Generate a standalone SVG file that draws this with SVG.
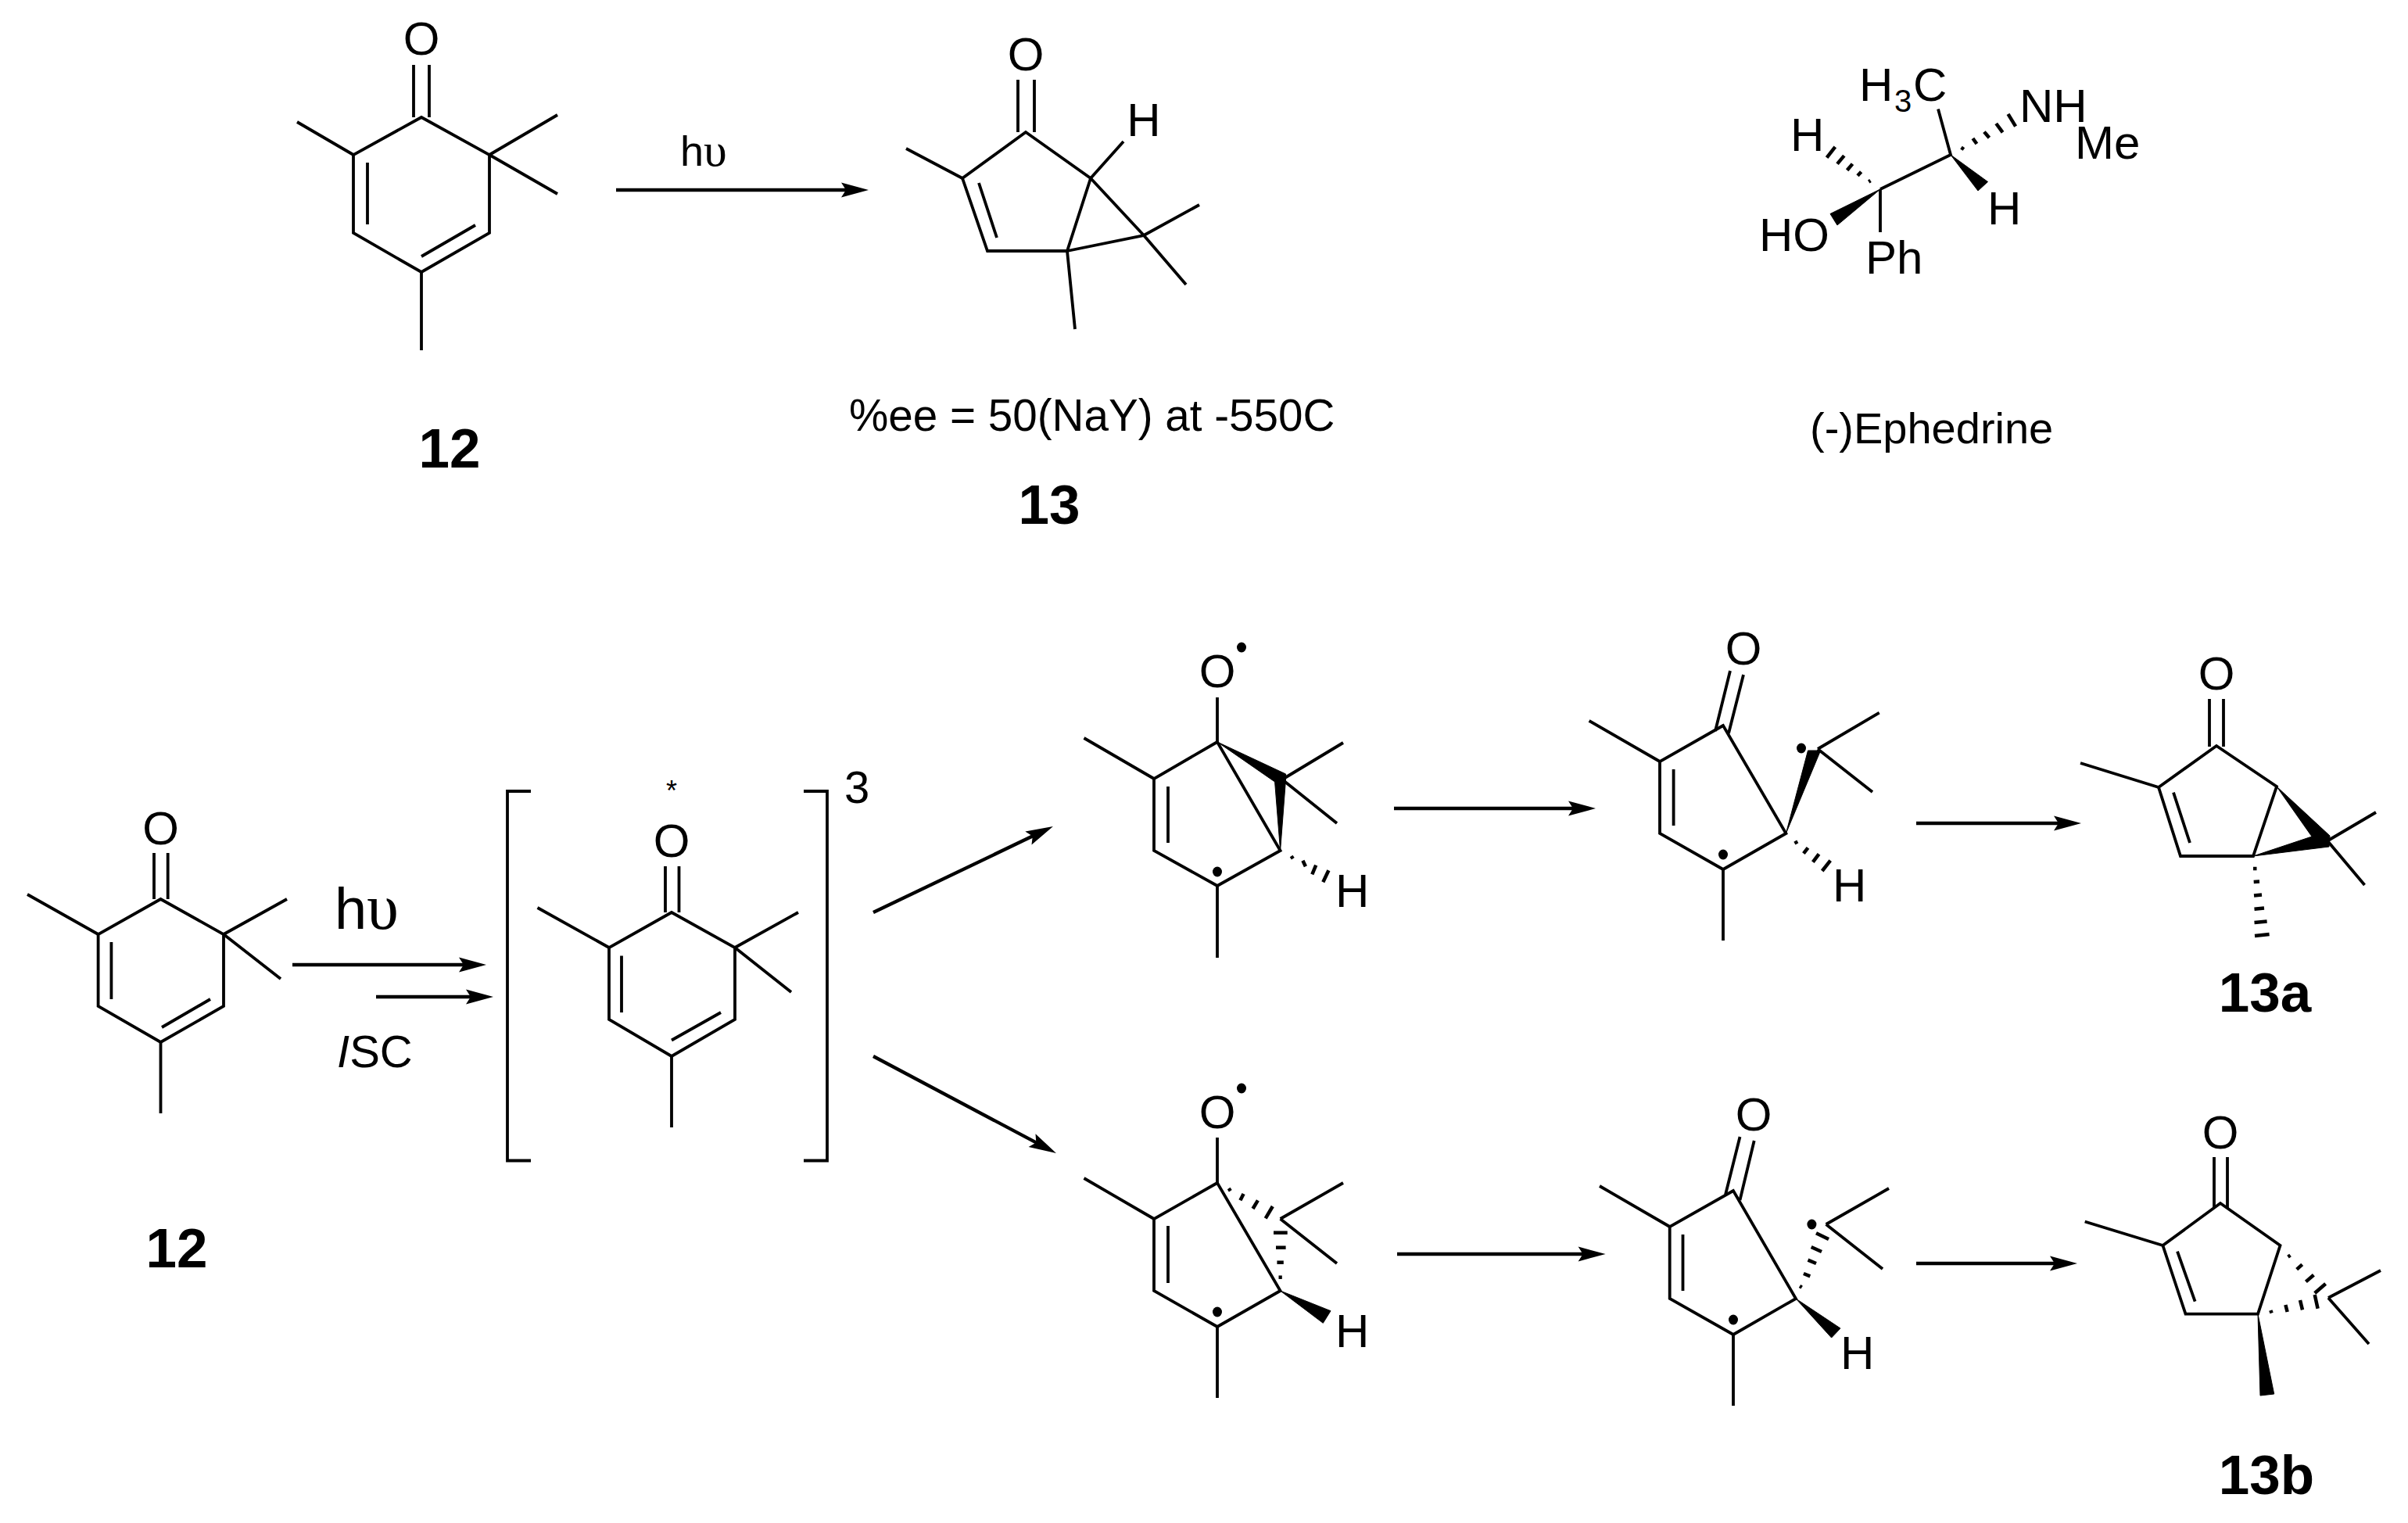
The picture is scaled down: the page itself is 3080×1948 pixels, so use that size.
<svg xmlns="http://www.w3.org/2000/svg" width="3080" height="1948" viewBox="0 0 3080 1948">
<defs>
<style>
text{font-family:"Liberation Sans",Arial,sans-serif;fill:#000}
.a{font-size:60px;text-anchor:middle}
.s{font-size:60px}
.n{font-size:71px;font-weight:bold;text-anchor:middle}
.c{font-size:56px}
path,line{fill:none;stroke:#000;stroke-width:3.8;stroke-linejoin:miter;stroke-linecap:butt}
.h line,.h{stroke-width:4.5}
polygon{fill:#000;stroke:#000;stroke-width:1;stroke-linejoin:miter}
circle,ellipse{fill:#000}
#arrows line{stroke-width:4.4;marker-end:url(#ah)}
</style>
<marker id="ah" markerUnits="userSpaceOnUse" markerWidth="36" markerHeight="20" viewBox="0 0 35 20" refX="8" refY="10" orient="auto"><path d="M0 0.5L35 10L0 19.5L6 10Z" style="fill:#000;stroke:none"/></marker>
</defs>
<rect width="3080" height="1948" fill="#fff"/>

<g id="arrows">
<line x1="788" y1="243" x2="1084" y2="243"/>
<line x1="374" y1="1234" x2="595" y2="1234"/>
<line x1="481" y1="1275" x2="604" y2="1275"/>
<line x1="1117" y1="1167" x2="1322.6" y2="1068.6"/>
<line x1="1117" y1="1351" x2="1327.1" y2="1462.4"/>
<line x1="1783" y1="1034" x2="2014" y2="1034"/>
<line x1="2451" y1="1053" x2="2635" y2="1053"/>
<line x1="1787" y1="1604" x2="2026.6" y2="1604"/>
<line x1="2451" y1="1616" x2="2630" y2="1616"/>
</g>

<g id="reagents">
<text x="870" y="212" style="font-size:54px">h<tspan style="font-family:'Liberation Serif',serif;font-size:60px">υ</tspan></text>
<text x="428" y="1188" style="font-size:74px">h<tspan style="font-family:'Liberation Serif',serif;font-size:82px">υ</tspan></text>
<text x="431" y="1365" style="font-size:58px"><tspan font-style="italic">I</tspan>SC</text>
</g>

<g id="mol-12-top">
<path d="M539 150L452 198V298L539 348L626 298V198Z"/>
<path d="M380 156L452 198M626 198L713 147M626 198L713 248M539 348V448M470 208V287M608 288L539 328M529 83V150M549 83V150"/>
<text class="a" x="539" y="70">O</text>
<text class="n" x="575" y="598">12</text>
</g>

<g id="mol-13-top">
<path d="M1312 169L1231 228L1263 321H1365L1395 228Z"/>
<path d="M1231 228L1159 190M1395 228L1463 301L1365 321M1463 301L1534 262M1463 301L1517 364M1365 321L1375 421M1395 228L1437 181M1252 234L1275 304M1302 102V169M1323 102V169"/>
<text class="a" x="1312" y="90">O</text>
<text class="a" x="1463" y="174">H</text>
<text class="c" x="1086" y="551" style="font-size:56.6px">%ee = 50(NaY) at -550C</text>
<text class="n" x="1342" y="670">13</text>
</g>

<g id="mol-ephedrine">
<path d="M2405 242L2495 198L2479 139.5M2405 242V297"/>
<polygon points="2405,242 2341,273.5 2350,288"/>
<polygon points="2495,198 2542.5,232.5 2530,244"/>
<g class="h">
<line x1="2336.6" y1="201.6" x2="2347.3" y2="187.9"/>
<line x1="2350" y1="209.6" x2="2358.8" y2="199.1"/>
<line x1="2362.6" y1="217.7" x2="2369.5" y2="209.6"/>
<line x1="2376" y1="224.7" x2="2380.6" y2="219.8"/>
<line x1="2390.2" y1="232.5" x2="2392.5" y2="231"/>
<line x1="2508.5" y1="188.6" x2="2511.9" y2="191"/>
<line x1="2523.4" y1="177" x2="2528.4" y2="184"/>
<line x1="2537.9" y1="168.6" x2="2544.4" y2="176.3"/>
<line x1="2553.2" y1="158" x2="2561.6" y2="169.3"/>
<line x1="2568.5" y1="145.8" x2="2578.1" y2="161.6"/>
</g>
<text class="s" x="2378" y="129">H</text>
<text x="2423" y="143" style="font-size:40px">3</text>
<text class="s" x="2447" y="129">C</text>
<text class="s" x="2583" y="156">NH</text>
<text class="s" x="2654" y="203">Me</text>
<text class="s" x="2290" y="193">H</text>
<text class="s" x="2542" y="287">H</text>
<text class="s" x="2250" y="321">HO</text>
<text class="s" x="2386" y="350">Ph</text>
<text class="c" x="2315" y="567">(-)Ephedrine</text>
</g>

<g id="mol-12-bottom">
<path d="M205.5 1150L125.6 1195V1287L205.5 1333L286 1287V1195Z"/>
<path d="M35 1144L125.6 1195M286 1195L367 1150M286 1195L359 1252M205.5 1333V1424M142.4 1205V1278M269 1278L207 1314M197 1091V1150M214.7 1091V1150"/>
<text class="a" x="205.5" y="1080">O</text>
<text class="n" x="226" y="1621">12</text>
</g>

<g id="mol-triplet">
<path d="M679 1012H649V1484.5H679M1028 1012H1058V1484.5H1028"/>
<path d="M859 1167L779 1212V1304L859 1351L940 1304V1212Z"/>
<path d="M687.5 1161L779 1212M940 1212L1021 1167M940 1212L1012 1269M859 1351V1442M795 1222.5V1295M922 1295L859 1330.5M851 1108V1167M868.5 1108V1167"/>
<text class="a" x="859" y="1096">O</text>
<text x="859" y="1024" style="font-size:36px;text-anchor:middle">*</text>
<text x="1080" y="1027" style="font-size:58px">3</text>
</g>

<g id="mol-radical-a1">
<path d="M1557 949L1476 996V1088L1557 1133L1637.6 1088Z"/>
<path d="M1386.5 944L1476 996M1557 892V949M1557 1133V1225M1494 1006V1078M1640 997L1718 950M1640 997L1710 1053"/>
<polygon points="1557,949 1644.6,990 1644.6,996 1637.6,1088 1630.6,1000"/>
<g class="h">
<line x1="1651.6" y1="1095" x2="1653.8" y2="1098.3"/>
<line x1="1666.4" y1="1100.7" x2="1669.9" y2="1108.3"/>
<line x1="1683.2" y1="1106.7" x2="1678.3" y2="1118.3"/>
<line x1="1699.4" y1="1113.3" x2="1692.3" y2="1128.3"/>
</g>
<ellipse cx="1588" cy="828" rx="6" ry="6.5"/>
<ellipse cx="1557" cy="1115" rx="6" ry="6.5"/>
<text class="a" x="1557" y="879">O</text>
<text class="s" x="1708" y="1160">H</text>
</g>

<g id="mol-radical-a2">
<path d="M2204 928L2123 974V1066L2204 1112L2284.4 1066Z"/>
<path d="M2032.6 922L2123 974M2213 858L2194 935M2230 863L2211 938M2204 1112V1203M2140.6 984V1056M2325 958L2403.7 911.7M2325 958L2395 1013"/>
<polygon points="2284.4,1066 2312.5,960 2328.6,960"/>
<g class="h">
<line x1="2296.3" y1="1075.7" x2="2298.4" y2="1079.3"/>
<line x1="2312.5" y1="1084.3" x2="2306.9" y2="1091.7"/>
<line x1="2326.5" y1="1092.3" x2="2318.8" y2="1102.7"/>
<line x1="2341.2" y1="1100.7" x2="2330.7" y2="1114"/>
</g>
<ellipse cx="2304" cy="957" rx="6" ry="6.5"/>
<ellipse cx="2204" cy="1093" rx="6" ry="6.5"/>
<text class="a" x="2230" y="850">O</text>
<text class="s" x="2344" y="1153">H</text>
</g>

<g id="mol-13a">
<path d="M2835 954L2761 1007L2789 1095H2882L2912 1006Z"/>
<path d="M2761 1007L2661 976M2780 1013.7L2801 1078M2826 894V955M2844 894V955M2977 1075.5L3039 1039M2977 1075.5L3024.5 1132"/>
<polygon points="2912,1006 2980,1069 2979,1083 2882,1095 2957,1070"/>
<g class="h">
<line x1="2882" y1="1111" x2="2886.5" y2="1111"/>
<line x1="2882.7" y1="1128" x2="2890" y2="1127.6"/>
<line x1="2883" y1="1145.5" x2="2893" y2="1144.5"/>
<line x1="2883.5" y1="1162.7" x2="2896" y2="1161.4"/>
<line x1="2883.5" y1="1180" x2="2899.6" y2="1178.6"/>
<line x1="2884" y1="1197" x2="2902.6" y2="1195"/>
</g>
<text class="a" x="2835" y="882">O</text>
<text class="n" x="2897" y="1293.6">13a</text>
</g>

<g id="mol-radical-b1">
<path d="M1557 1513L1476 1559V1651L1557 1697L1637.6 1651Z"/>
<path d="M1386.5 1507L1476 1559M1557 1455V1513M1557 1697V1788M1494 1568V1641M1637.6 1559L1718 1513M1637.6 1559L1710 1616"/>
<polygon points="1637.6,1651 1702,1676.7 1692.3,1692.3"/>
<g class="h">
<line x1="1571.7" y1="1520" x2="1573.8" y2="1523.3"/>
<line x1="1590.6" y1="1527" x2="1586.4" y2="1535.3"/>
<line x1="1608.9" y1="1535.3" x2="1602.5" y2="1546"/>
<line x1="1627.8" y1="1543" x2="1618.7" y2="1558.3"/>
<line x1="1629" y1="1576.7" x2="1646.7" y2="1576.7"/>
<line x1="1632" y1="1595.7" x2="1644.6" y2="1595.7"/>
<line x1="1633.4" y1="1614.7" x2="1641.8" y2="1614.7"/>
<line x1="1635.5" y1="1633.7" x2="1639.8" y2="1633.7"/>
</g>
<ellipse cx="1588" cy="1392" rx="6" ry="6.5"/>
<ellipse cx="1557" cy="1678" rx="6" ry="6.5"/>
<text class="a" x="1557" y="1443">O</text>
<text class="s" x="1708" y="1723">H</text>
</g>

<g id="mol-radical-b2">
<path d="M2217 1523L2135.7 1569V1661L2217 1707L2297 1661Z"/>
<path d="M2046 1517L2135.7 1569M2225.5 1454L2207 1528M2243.7 1459L2225.5 1535M2217 1707V1798M2152.5 1579V1651M2335.6 1566L2416 1520M2335.6 1566L2408 1623"/>
<polygon points="2297,1661 2354,1699 2342.6,1711"/>
<g class="h">
<line x1="2302" y1="1645" x2="2304.7" y2="1646.7"/>
<line x1="2306.9" y1="1629" x2="2315.3" y2="1632.3"/>
<line x1="2312.5" y1="1611.7" x2="2323" y2="1616"/>
<line x1="2316.7" y1="1595" x2="2330" y2="1601"/>
<line x1="2323" y1="1577.3" x2="2339" y2="1585"/>
</g>
<ellipse cx="2317.4" cy="1566" rx="6" ry="6.5"/>
<ellipse cx="2217" cy="1688" rx="6" ry="6.5"/>
<text class="a" x="2243" y="1446">O</text>
<text class="s" x="2354" y="1751">H</text>
</g>

<g id="mol-13b">
<path d="M2840 1539L2766.4 1593L2795.5 1680.7H2888L2916.5 1593Z"/>
<path d="M2766.4 1593L2666.7 1562.5M2785 1600.6L2807.6 1664.6M2832 1480V1545M2849 1480V1545M2978 1660L3045 1625M2978 1660L3030 1719"/>
<polygon points="2888,1680.7 2891,1785 2908.7,1783"/>
<g class="h">
<line x1="2926.5" y1="1607.6" x2="2929.5" y2="1605.5"/>
<line x1="2937.7" y1="1623.7" x2="2944.7" y2="1617.4"/>
<line x1="2949.4" y1="1639.4" x2="2959.4" y2="1630.7"/>
<line x1="2960.7" y1="1654" x2="2974.6" y2="1642"/>
<line x1="2904.3" y1="1676" x2="2905.6" y2="1679.6"/>
<line x1="2923.4" y1="1669" x2="2925.6" y2="1678"/>
<line x1="2942" y1="1663" x2="2945" y2="1675.4"/>
<line x1="2960.7" y1="1656" x2="2964.6" y2="1673.7"/>
</g>
<text class="a" x="2840" y="1469">O</text>
<text class="n" x="2899" y="1911">13b</text>
</g>
</svg>
